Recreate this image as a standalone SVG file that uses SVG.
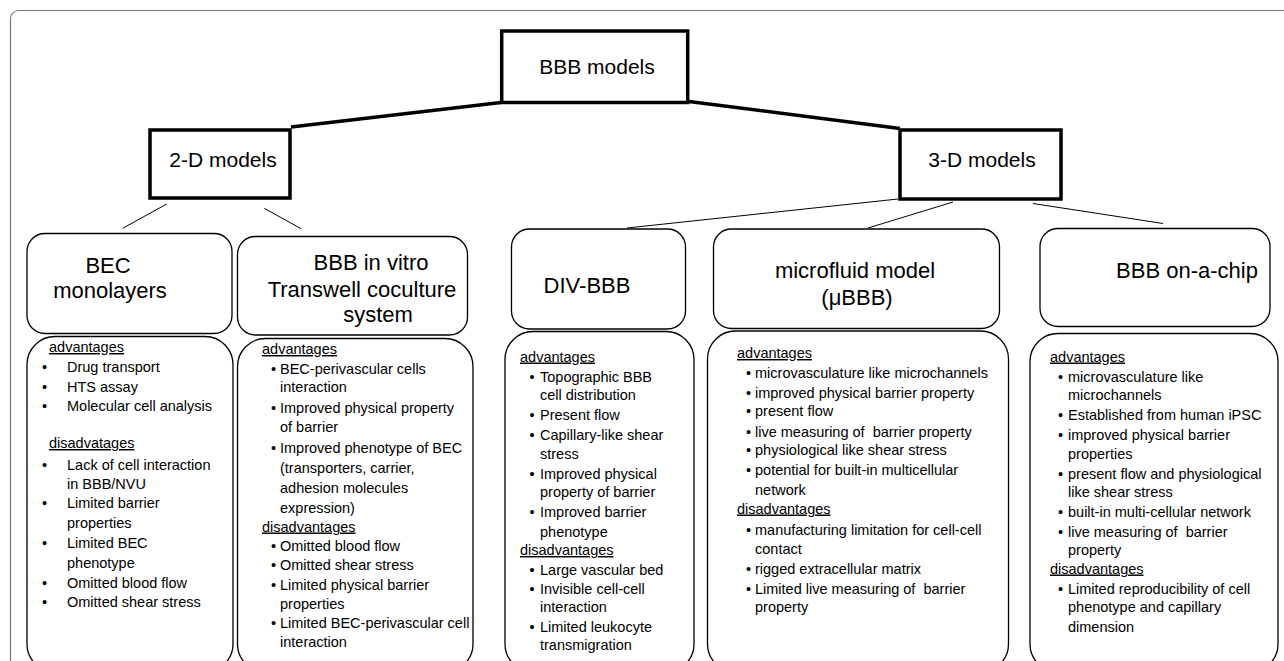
<svg xmlns="http://www.w3.org/2000/svg" width="1284" height="661" viewBox="0 0 1284 661">
<style>
  text { font-family: "Liberation Sans", Arial, sans-serif; fill: #000; }
  .main { fill: #fff; stroke: #000; stroke-width: 3.5; }
  .mlabel { font-size: 21px; text-anchor: middle; }
  .tbox { fill: #fff; stroke: #000; stroke-width: 1.3; }
  .cbox { fill: #fff; stroke: #000; stroke-width: 1.3; }
  .title { font-size: 22px; text-anchor: middle; }
  .body { font-size: 14.5px; }
  .hd { text-decoration: underline; }
  .thick { stroke: #000; stroke-width: 3.5; fill: none; }
  .thin { stroke: #000; stroke-width: 1; fill: none; }
</style>
<rect x="10.5" y="10.5" width="1290" height="700" rx="8" fill="#fff" stroke="#777" stroke-width="1.2"/>

<g id="connectors">
  <line class="thick" x1="291" y1="127" x2="501" y2="102.5"/>
  <line class="thick" x1="689" y1="101.5" x2="900" y2="128.5"/>
  <line class="thin" x1="166.7" y1="204" x2="122.7" y2="228.3" stroke-width="1.5"/>
  <line class="thin" x1="264.3" y1="208.3" x2="301" y2="228.7"/>
  <line class="thin" x1="898" y1="199" x2="627" y2="228"/>
  <line class="thin" x1="953" y1="202" x2="868" y2="228"/>
  <line class="thin" x1="1033" y1="203.5" x2="1163" y2="223.5"/>
</g>

<g id="bbb-models">
  <rect class="main" x="501.7" y="31" width="186" height="71.5"/>
  <text class="mlabel" x="597" y="73.5">BBB models</text>
</g>
<g id="models-2d">
  <rect class="main" x="150" y="130" width="140" height="68"/>
  <text class="mlabel" x="223" y="167">2-D models</text>
</g>
<g id="models-3d">
  <rect class="main" x="900" y="130" width="161" height="69"/>
  <text class="mlabel" x="982" y="167">3-D models</text>
</g>

<g id="bec-monolayers">
  <rect class="tbox" x="27" y="233.5" width="205" height="100" rx="18"/>
  <text class="title" x="108" y="273">BEC</text>
  <text class="title" x="110" y="298">monolayers</text>
</g>
<g id="bec-monolayers-details">
  <rect class="cbox" x="27" y="336.5" width="206" height="335.5" rx="28"/>
  <text class="body">
    <tspan class="hd" x="49" y="352">advantages</tspan>
    <tspan x="42" y="372">•</tspan><tspan x="67" y="372">Drug transport</tspan>
    <tspan x="42" y="391.5">•</tspan><tspan x="67" y="391.5">HTS assay</tspan>
    <tspan x="42" y="411">•</tspan><tspan x="67" y="411">Molecular cell analysis</tspan>
    <tspan class="hd" x="49" y="448">disadvatages</tspan>
    <tspan x="42" y="470">•</tspan><tspan x="67" y="470">Lack of cell interaction</tspan>
    <tspan x="67" y="488.5">in BBB/NVU</tspan>
    <tspan x="42" y="508">•</tspan><tspan x="67" y="508">Limited barrier</tspan>
    <tspan x="67" y="528">properties</tspan>
    <tspan x="42" y="548">•</tspan><tspan x="67" y="548">Limited BEC</tspan>
    <tspan x="67" y="567.5">phenotype</tspan>
    <tspan x="42" y="587.5">•</tspan><tspan x="67" y="587.5">Omitted blood flow</tspan>
    <tspan x="42" y="607">•</tspan><tspan x="67" y="607">Omitted shear stress</tspan>
  </text>
</g>

<g id="transwell">
  <rect class="tbox" x="237.5" y="236.5" width="230" height="98.5" rx="18"/>
  <text class="title" x="371" y="270">BBB in vitro</text>
  <text class="title" x="362" y="297">Transwell coculture</text>
  <text class="title" x="378" y="322">system</text>
</g>
<g id="transwell-details">
  <rect class="cbox" x="237.5" y="338.5" width="235.5" height="333.5" rx="28"/>
  <text class="body">
    <tspan class="hd" x="262" y="354">advantages</tspan>
    <tspan x="271" y="373.5">•</tspan><tspan x="280" y="373.5">BEC-perivascular cells</tspan>
    <tspan x="280" y="392">interaction</tspan>
    <tspan x="271" y="413">•</tspan><tspan x="280" y="413">Improved physical property</tspan>
    <tspan x="280" y="431.5">of barrier</tspan>
    <tspan x="271" y="453">•</tspan><tspan x="280" y="453">Improved phenotype of BEC</tspan>
    <tspan x="280" y="473">(transporters, carrier,</tspan>
    <tspan x="280" y="493">adhesion molecules</tspan>
    <tspan x="280" y="513">expression)</tspan>
    <tspan class="hd" x="262" y="531.5">disadvantages</tspan>
    <tspan x="271" y="551">•</tspan><tspan x="280" y="551">Omitted blood flow</tspan>
    <tspan x="271" y="570">•</tspan><tspan x="280" y="570">Omitted shear stress</tspan>
    <tspan x="271" y="589.5">•</tspan><tspan x="280" y="589.5">Limited physical barrier</tspan>
    <tspan x="280" y="608.5">properties</tspan>
    <tspan x="271" y="628">•</tspan><tspan x="280" y="628">Limited BEC-perivascular cell</tspan>
    <tspan x="280" y="647">interaction</tspan>
  </text>
</g>

<g id="div-bbb">
  <rect class="tbox" x="511.5" y="229" width="174" height="100" rx="18"/>
  <text class="title" x="587" y="293">DIV-BBB</text>
</g>
<g id="div-bbb-details">
  <rect class="cbox" x="505" y="331.5" width="189" height="340.5" rx="28"/>
  <text class="body">
    <tspan class="hd" x="520" y="361.5">advantages</tspan>
    <tspan x="529.5" y="381.5">•</tspan><tspan x="540" y="381.5">Topographic BBB</tspan>
    <tspan x="540" y="400">cell distribution</tspan>
    <tspan x="529.5" y="419.5">•</tspan><tspan x="540" y="419.5">Present flow</tspan>
    <tspan x="529.5" y="440">•</tspan><tspan x="540" y="440">Capillary-like shear</tspan>
    <tspan x="540" y="458.5">stress</tspan>
    <tspan x="529.5" y="478.5">•</tspan><tspan x="540" y="478.5">Improved physical</tspan>
    <tspan x="540" y="497">property of barrier</tspan>
    <tspan x="529.5" y="517">•</tspan><tspan x="540" y="517">Improved barrier</tspan>
    <tspan x="540" y="536.5">phenotype</tspan>
    <tspan class="hd" x="520" y="555">disadvantages</tspan>
    <tspan x="529.5" y="575">•</tspan><tspan x="540" y="575">Large vascular bed</tspan>
    <tspan x="529.5" y="593.5">•</tspan><tspan x="540" y="593.5">Invisible cell-cell</tspan>
    <tspan x="540" y="612">interaction</tspan>
    <tspan x="529.5" y="631.5">•</tspan><tspan x="540" y="631.5">Limited leukocyte</tspan>
    <tspan x="540" y="650">transmigration</tspan>
  </text>
</g>

<g id="microfluid">
  <rect class="tbox" x="713.5" y="229" width="286" height="99.5" rx="18"/>
  <text class="title" x="855" y="278">microfluid model</text>
  <text class="title" x="857" y="305">(μBBB)</text>
</g>
<g id="microfluid-details">
  <rect class="cbox" x="707.5" y="331" width="301" height="341" rx="28"/>
  <text class="body">
    <tspan class="hd" x="737" y="358">advantages</tspan>
    <tspan x="746" y="378">•</tspan><tspan x="755" y="378">microvasculature like microchannels</tspan>
    <tspan x="746" y="397.5">•</tspan><tspan x="755" y="397.5">improved physical barrier property</tspan>
    <tspan x="746" y="416">•</tspan><tspan x="755" y="416">present flow</tspan>
    <tspan x="746" y="436.5">•</tspan><tspan x="755" y="436.5">live measuring of&#160; barrier property</tspan>
    <tspan x="746" y="455">•</tspan><tspan x="755" y="455">physiological like shear stress</tspan>
    <tspan x="746" y="475">•</tspan><tspan x="755" y="475">potential for built-in multicellular</tspan>
    <tspan x="755" y="494.5">network</tspan>
    <tspan class="hd" x="737" y="513.5">disadvantages</tspan>
    <tspan x="746" y="535">•</tspan><tspan x="755" y="535">manufacturing limitation for cell-cell</tspan>
    <tspan x="755" y="553.5">contact</tspan>
    <tspan x="746" y="573.5">•</tspan><tspan x="755" y="573.5">rigged extracellular matrix</tspan>
    <tspan x="746" y="593.5">•</tspan><tspan x="755" y="593.5">Limited live measuring of&#160; barrier</tspan>
    <tspan x="755" y="612">property</tspan>
  </text>
</g>

<g id="bbb-on-a-chip">
  <rect class="tbox" x="1040" y="228.5" width="230" height="98" rx="18"/>
  <text class="title" x="1187" y="278">BBB on-a-chip</text>
</g>
<g id="bbb-on-a-chip-details">
  <rect class="cbox" x="1030" y="333.5" width="248" height="338.5" rx="28"/>
  <text class="body">
    <tspan class="hd" x="1050" y="361.5">advantages</tspan>
    <tspan x="1058" y="381.5">•</tspan><tspan x="1068" y="381.5">microvasculature like</tspan>
    <tspan x="1068" y="400">microchannels</tspan>
    <tspan x="1058" y="419.5">•</tspan><tspan x="1068" y="419.5">Established from human iPSC</tspan>
    <tspan x="1058" y="439.5">•</tspan><tspan x="1068" y="439.5">improved physical barrier</tspan>
    <tspan x="1068" y="458.5">properties</tspan>
    <tspan x="1058" y="478.5">•</tspan><tspan x="1068" y="478.5">present flow and physiological</tspan>
    <tspan x="1068" y="497">like shear stress</tspan>
    <tspan x="1058" y="517">•</tspan><tspan x="1068" y="517">built-in multi-cellular network</tspan>
    <tspan x="1058" y="536.5">•</tspan><tspan x="1068" y="536.5">live measuring of&#160; barrier</tspan>
    <tspan x="1068" y="555">property</tspan>
    <tspan class="hd" x="1050" y="573.5">disadvantages</tspan>
    <tspan x="1058" y="593.5">•</tspan><tspan x="1068" y="593.5">Limited reproducibility of cell</tspan>
    <tspan x="1068" y="612">phenotype and capillary</tspan>
    <tspan x="1068" y="631.5">dimension</tspan>
  </text>
</g>
</svg>
